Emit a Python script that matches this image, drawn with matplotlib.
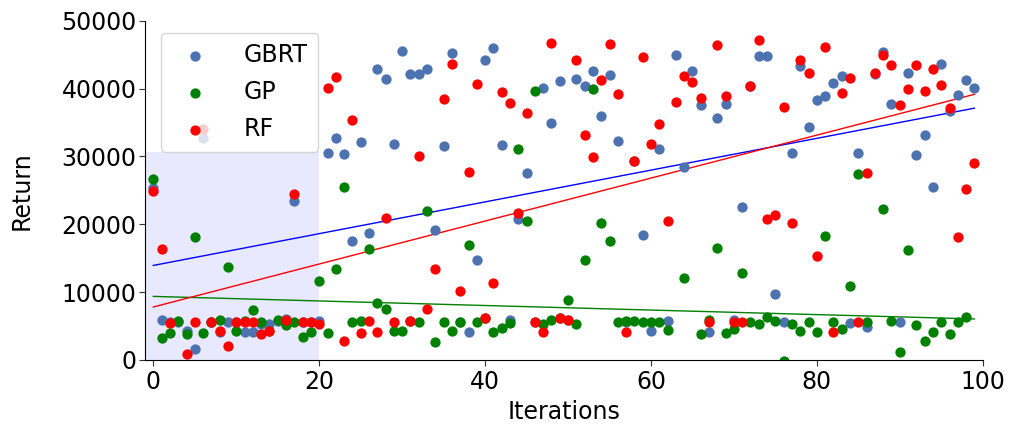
import numpy as np
import matplotlib
matplotlib.use("Agg")
import matplotlib.pyplot as plt

iterations = list(range(100))

gbrt = [25300, 5890, 5600, 5600, 4200, 1620, 32650, 5600, 4100, 5640,
        5600, 4170, 4170, 5300, 5350, 5740, 5990, 23500, 5600, 5550,
        5740, 30440, 32650, 30340, 17580, 32060, 18760, 42820, 41490, 31820,
        45560, 42130, 42130, 42910, 19150, 31520, 45270, 5650, 4170, 14730,
        44190, 45990, 31620, 5890, 20840, 27500, 5650, 40160, 34860, 41100,
        5890, 41390, 40410, 42620, 35990, 41980, 32310, 5550, 29310, 18370,
        4270, 31030, 5790, 45020, 28380, 42620, 37610, 4170, 35700, 37710,
        5890, 22490, 40360, 44780, 44780, 9720, 5550, 30440, 43310, 34370,
        38300, 38930, 40850, 41880, 5450, 30440, 4810, 42130, 45420, 37660,
        5550, 42370, 30150, 33090, 25530, 43600, 36680, 39030, 41200, 40020]

# a few GP runs fall below the plotted range
gp = [26660, 3190, 4030, 5790, 3780, 18170, 4030, 5640, 5890, 13650,
      4310, 5790, 7360, 5640, 4310, 5890, 5160, 5550, 3440, 4070,
      11690, 4030, 13400, 25430, 5550, 5750, 16400, 8440, 7460, 4320,
      4320, 5740, 5650, 21900, 2700, 5550, 4320, 5650, 16890, 5650,
      6140, 4170, 4670, 5500, 31080, 20430, 39670, 5300, 5890, 6140,
      8840, 5300, 14730, 39970, 20230, 17580, 5550, 5740, 5790, 5550,
      5550, 5550, 4470, -38000, 12030, -38000, 3780, 5890, 16450, 4030,
      4610, 12770, 5650, 5300, 6380, 5740, -100, 5300, 4320, 5550,
      4070, 18270, 5550, 4610, 10950, 27400, 5550, -1500, 22240, 5740,
      1130, 16200, 5160, 2850, 4170, 5650, 3830, 5550, 6380, -1500]

rf = [24940, 16300, 5500, -7000, 830, 5650, 33980, 5640, 4310, 2110,
      5640, 5650, 5650, 3830, 4310, -7000, 5960, 24450, 5550, 5550,
      5300, 40160, 41740, 2800, 35350, 4030, 5740, 4170, 20870, 5550,
      -7000, 5740, 30050, 7510, 13450, 38540, 43700, 10160, 27740, 40750,
      6200, 11390, 39450, 37930, 21720, 36430, 5650, 4170, 46740, 6140,
      5890, 44190, 33190, 29950, 41340, 46640, 39180, 4170, 29310, 44680,
      31770, 34720, 20470, 37960, 41830, 41000, 38690, 5550, 46450, 38930,
      5550, 5550, 40360, 47230, 20720, 21360, 37220, 20130, 44290, 42230,
      15320, 46150, 4170, 39380, 41540, 5550, 27590, 42370, 44930, 43550,
      37560, 39920, 43450, 39620, 42860, 40560, 37170, 18170, 25240, 28970]

series = [("GBRT", gbrt, "#4c72b0", "blue"),
          ("GP", gp, "green", "green"),
          ("RF", rf, "red", "red")]

fig = plt.figure(figsize=(10.1, 4.24), dpi=100)
ax = fig.add_axes([0.1436, 0.151, 0.8294, 0.8])

# initial random samples
ax.fill_between([-1, 20], 0, 30700, color="blue", alpha=0.09, linewidth=0, zorder=0)

x = np.array(iterations)
for name, vals, c, lc in series:
	k, b = np.polyfit(x, vals, 1)
	ax.plot(x, k * x + b, color=lc, linewidth=1, zorder=1)

for name, vals, c, lc in series:
	ax.scatter(x, vals, s=55, color=c, linewidths=0, label=name, zorder=2)

ax.set_xlim(-1, 100)
ax.set_ylim(0, 50000)
ax.set_xticks([0, 20, 40, 60, 80, 100])
ax.set_yticks([0, 10000, 20000, 30000, 40000, 50000])
ax.tick_params(labelsize=17, color="#333333", length=4)
ax.tick_params(axis="y", pad=2)
ax.spines["top"].set_visible(False)
ax.spines["right"].set_visible(False)
ax.set_xlabel("Iterations", fontsize=17)
ax.set_ylabel("Return", fontsize=17, labelpad=20)
ax.legend(loc="upper left", fontsize=17, handletextpad=1.05,
          borderpad=0.45, labelspacing=0.55, bbox_to_anchor=(0.005, 1.0))

fig.savefig("out.png", dpi=100)
